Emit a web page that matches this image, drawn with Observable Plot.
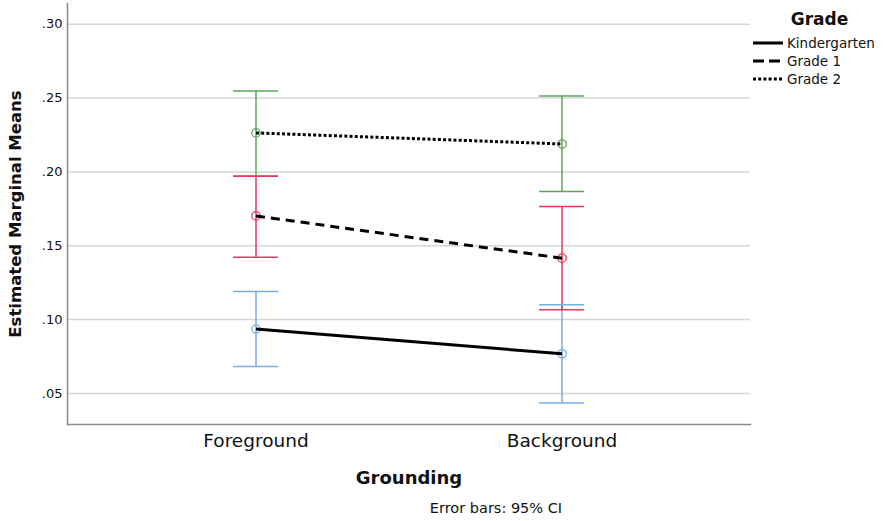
<!DOCTYPE html>
<html>
<head>
<meta charset="utf-8">
<script src="https://cdn.jsdelivr.net/npm/d3@7"></script>
<script src="https://cdn.jsdelivr.net/npm/@observablehq/plot@0.6"></script>
<style>
  body { margin: 0; background: #fff; }
  #wrap { position: relative; width: 888px; height: 521px; font-family: "DejaVu Sans", sans-serif; color: #111; }
  #legend { position: absolute; left: 752px; top: 9px; }
  #legend .title { font-weight: bold; font-size: 17px; text-align: center; margin-left: 12px; margin-bottom: 5px; }
  #legend .row { display: flex; align-items: center; height: 18px; font-size: 13.5px; }
  #legend svg { margin-right: 3px; }
  #note { position: absolute; left: 0; width: 992px; top: 500px; text-align: center; font-size: 14.5px; }
</style>
</head>
<body>
<div id="wrap">
  <div id="chart"></div>
  <div id="legend"></div>
  <div id="note">Error bars: 95% CI</div>
</div>
<script>
const grounding = ["Foreground", "Background"];
const grades = ["Kindergarten", "Grade 1", "Grade 2"];
const meanK = [0.0936, 0.0769];
const mean1 = [0.1702, 0.1416];
const mean2 = [0.2264, 0.2189];
const lowK = [0.0683, 0.0436];
const low1 = [0.1423, 0.1067];
const low2 = [0.1973, 0.1867];
const highK = [0.1191, 0.1100];
const high1 = [0.1970, 0.1765];
const high2 = [0.2547, 0.2513];
const yTicks = [0.05, 0.10, 0.15, 0.20, 0.25, 0.30];

const barColors = ["#79ade6", "#e2385f", "#58a758"];
const dashes = [null, "9,6", "3,2.2"];

const means = [meanK, mean1, mean2];
const lows = [lowK, low1, low2];
const highs = [highK, high1, high2];

const data = [];
grades.forEach((g, gi) => {
  grounding.forEach((c, ci) => {
    data.push({grade: g, grounding: c, mean: means[gi][ci], low: lows[gi][ci], high: highs[gi][ci]});
  });
});

const fmt = d => d3.format(".2f")(d).replace(/^0/, "");

const marks = [
  Plot.gridY(yTicks, {stroke: "#d6d6d6", strokeOpacity: 1, strokeWidth: 1.5}),
  Plot.frame({anchor: "left", stroke: "#8a8a8a", strokeWidth: 1.5}),
  Plot.frame({anchor: "bottom", stroke: "#8a8a8a", strokeWidth: 1.5}),
  Plot.axisY(yTicks, {tickSize: 0, tickPadding: 5, tickFormat: fmt, fontSize: 13, label: "Estimated Marginal Means", labelAnchor: "center", labelOffset: 58, labelArrow: "none"}),
  Plot.axisX({tickSize: 0, tickPadding: 9, fontSize: 18.5, label: "Grounding", labelAnchor: "center", labelOffset: 59, labelArrow: "none"}),
  Plot.ruleX(data, {x: "grounding", y1: "low", y2: "high", stroke: "grade", strokeWidth: 1.5}),
  Plot.tickY(data, {x: "grounding", y: "low", stroke: "grade", strokeWidth: 1.5}),
  Plot.tickY(data, {x: "grounding", y: "high", stroke: "grade", strokeWidth: 1.5}),
  Plot.dot(data, {x: "grounding", y: "mean", stroke: "grade", r: 4.2, strokeWidth: 1.3, fill: "none"})
];
grades.forEach((g, gi) => {
  marks.push(Plot.line(data.filter(d => d.grade === g), {x: "grounding", y: "mean", stroke: "black", strokeWidth: 3, strokeDasharray: dashes[gi], strokeLinecap: "butt"}));
});

const chart = Plot.plot({
  width: 888,
  height: 521,
  marginLeft: 67,
  marginRight: 138,
  marginTop: 3,
  marginBottom: 97,
  style: {fontFamily: "DejaVu Sans, sans-serif", color: "#111", background: "white"},
  x: {type: "band", domain: grounding, paddingInner: 0.853, paddingOuter: 0.539},
  y: {domain: [0.029, 0.314]},
  color: {domain: grades, range: barColors},
  marks
});
document.getElementById("chart").appendChild(chart);

// bold axis labels
d3.select(chart).selectAll("g[aria-label='y-axis label'] text")
  .style("font-weight", "bold").style("font-size", "16.5px");
d3.select(chart).selectAll("g[aria-label='x-axis label'] text")
  .style("font-weight", "bold").style("font-size", "18px");

// legend
const legend = d3.select("#legend");
legend.append("div").attr("class", "title").text("Grade");
grades.forEach((g, gi) => {
  const row = legend.append("div").attr("class", "row");
  const s = row.append("svg").attr("width", 32).attr("height", 10);
  s.append("line").attr("x1", 1).attr("x2", 31).attr("y1", 5).attr("y2", 5)
    .attr("stroke", "black").attr("stroke-width", 3).attr("stroke-dasharray", gi === 1 ? "11,5" : dashes[gi]);
  row.append("span").text(g);
});
</script>
</body>
</html>
